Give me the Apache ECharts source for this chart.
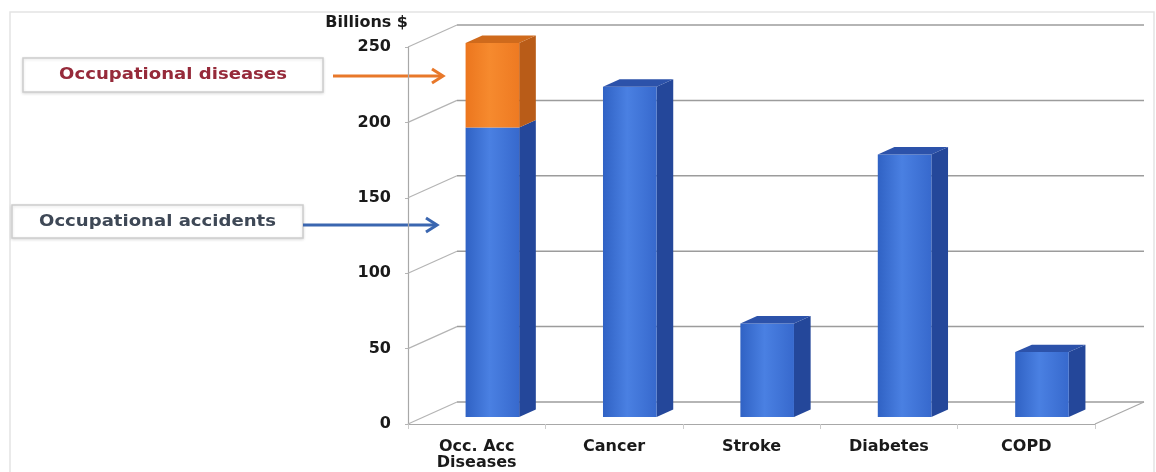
<!DOCTYPE html>
<html>
<head>
<meta charset="utf-8">
<title>Economic burden comparison</title>
<script src="https://cdn.jsdelivr.net/npm/echarts@6/dist/echarts.min.js"></script>
<style>
  html, body { margin: 0; padding: 0; background: #ffffff; }
  #chart { width: 1156px; height: 472px; }
</style>
</head>
<body>
<div id="chart"></div>
<script>
// Cost per condition, billions of dollars
const categories = ['Occ. Acc\nDiseases', 'Cancer', 'Stroke', 'Diabetes', 'COPD'];
const baseCost = [192, 219, 62, 174, 43];          // blue segment (occupational accidents for the first column)
const occDiseaseCost = [56, null, null, null, null]; // orange segment stacked on top
const yTicks = [0, 50, 100, 150, 200, 250];

// Pseudo-3D geometry (pixels): offset from the front plane to the back wall
const DX = 49, DY = -22;
const BAR_FRONT = 0.32;   // depth fraction where the bar's front face sits
const BAR_DEPTH = 0.34;   // depth fraction the bar occupies
const BAR_WIDTH = 0.39;   // share of the category band

const FONT = 'DejaVu Sans';

const blueStyle = {
  front: new echarts.graphic.LinearGradient(0, 0, 1, 0, [
    { offset: 0, color: '#3062c4' },
    { offset: 0.45, color: '#4a80e2' },
    { offset: 1, color: '#3769cd' }
  ]),
  side: '#24479a',
  top: '#2c52aa'
};
const orangeStyle = {
  front: new echarts.graphic.LinearGradient(0, 0, 1, 0, [
    { offset: 0, color: '#ec761e' },
    { offset: 0.45, color: '#f68a2e' },
    { offset: 1, color: '#ee7a22' }
  ]),
  side: '#b95c18',
  top: '#cf6a1c'
};

function boxRenderer(colors) {
  return function (params, api) {
    const i = api.value(0);
    const lo = api.value(1);
    const hi = api.value(2);
    const showTop = api.value(3) === 1;
    const band = api.size([1, 0])[0];
    const w = band * BAR_WIDTH;
    const pLo = api.coord([i, lo]);
    const pHi = api.coord([i, hi]);
    const xl = pLo[0] - w / 2 + BAR_FRONT * DX;
    const xr = xl + w;
    const yb = pLo[1] + BAR_FRONT * DY;
    const yt = pHi[1] + BAR_FRONT * DY;
    const dx = BAR_DEPTH * DX, dy = BAR_DEPTH * DY;
    const children = [
      {
        type: 'polygon',
        shape: { points: [[xr, yb], [xr + dx, yb + dy], [xr + dx, yt + dy], [xr, yt]] },
        style: { fill: colors.side }
      },
      {
        type: 'rect',
        shape: { x: xl, y: yt, width: w, height: yb - yt },
        style: { fill: colors.front }
      }
    ];
    if (showTop) {
      children.push({
        type: 'polygon',
        shape: { points: [[xl, yt], [xl + dx, yt + dy], [xr + dx, yt + dy], [xr, yt]] },
        style: { fill: colors.top }
      });
    }
    return { type: 'group', children: children };
  };
}

// Back wall gridlines with the receding tick connectors, plus the floor edge
function wallRenderer(params, api) {
  const cs = params.coordSys;
  const v = api.value(1);
  const y = api.coord([0, v])[1];
  const x0 = cs.x, x1 = cs.x + cs.width;
  const children = [
    {
      type: 'line',
      shape: { x1: x0, y1: y, x2: x0 + DX, y2: y + DY },
      style: { stroke: '#b4b4b4', lineWidth: 1.2 }
    },
    {
      type: 'line',
      shape: { x1: x0 + DX, y1: y + DY, x2: x1 + DX, y2: y + DY },
      style: { stroke: '#9c9c9c', lineWidth: 1.5 }
    }
  ];
  if (v === 0) {
    children.push({
      type: 'line',
      shape: { x1: x1, y1: y, x2: x1 + DX, y2: y + DY },
      style: { stroke: '#a8a8a8', lineWidth: 1.2 }
    });
  }
  return { type: 'group', children: children };
}

const blueData = categories.map((c, i) => [i, 0, baseCost[i], occDiseaseCost[i] == null ? 1 : 0]);
const orangeData = [];
occDiseaseCost.forEach((v, i) => {
  if (v != null) orangeData.push([i, baseCost[i], baseCost[i] + v, 1]);
});
const wallData = yTicks.map(v => [0, v]);

function arrow(x1, x2, y, color) {
  return {
    type: 'group',
    children: [
      { type: 'line', shape: { x1: x1, y1: y, x2: x2 - 2, y2: y }, style: { stroke: color, lineWidth: 3 } },
      { type: 'polyline', shape: { points: [[x2 - 11, y - 7], [x2, y], [x2 - 11, y + 7]] },
        style: { stroke: color, lineWidth: 3, fill: null } }
    ]
  };
}

function noteBox(x, y, w, h, text, color) {
  return {
    type: 'group',
    children: [
      { type: 'rect', shape: { x: x, y: y, width: w, height: h },
        style: { fill: '#ffffff', stroke: '#cdcdcd', lineWidth: 1.5,
                 shadowBlur: 3, shadowColor: 'rgba(0,0,0,0.12)', shadowOffsetY: 1 } },
      { type: 'text', x: x + w / 2, y: y + h / 2, scaleX: 1.13,
        style: { text: text, fill: color, font: 'bold 16px "' + FONT + '"',
                 align: 'center', verticalAlign: 'middle' } }
    ]
  };
}

const chart = echarts.init(document.getElementById('chart'), null, { renderer: 'canvas' });
chart.setOption({
  backgroundColor: '#ffffff',
  animation: false,
  grid: { left: 408, right: 61, top: 47, bottom: 48 },
  xAxis: {
    type: 'category',
    data: categories,
    axisLine: { show: true, lineStyle: { color: '#a8a8a8', width: 1.2 } },
    axisTick: { show: true, length: 5, lineStyle: { color: '#cccccc' } },
    axisLabel: {
      margin: 15, fontFamily: FONT, fontWeight: 'bold', fontSize: 16,
      lineHeight: 16, color: '#1a1a1a'
    },
    splitLine: { show: false }
  },
  yAxis: {
    type: 'value',
    min: 0, max: 250, interval: 50,
    name: 'Billions $',
    nameLocation: 'end',
    nameGap: 24,
    nameTextStyle: {
      fontFamily: FONT, fontWeight: 'bold', fontSize: 16, color: '#1a1a1a',
      align: 'right', verticalAlign: 'middle'
    },
    axisLine: { show: true, lineStyle: { color: '#a8a8a8', width: 1.2 } },
    axisTick: { show: true, length: 3, lineStyle: { color: '#b4b4b4' } },
    axisLabel: {
      margin: 17, fontFamily: FONT, fontWeight: 'bold', fontSize: 16, color: '#1a1a1a'
    },
    splitLine: { show: false }
  },
  series: [
    { type: 'custom', name: 'wall', renderItem: wallRenderer, data: wallData, z: 1, silent: true },
    { type: 'custom', name: 'Occupational accidents', renderItem: boxRenderer(blueStyle), data: blueData, z: 2 },
    { type: 'custom', name: 'Occupational diseases', renderItem: boxRenderer(orangeStyle), data: orangeData, z: 3 }
  ],
  graphic: [
    { type: 'rect', shape: { x: 10, y: 12, width: 1144, height: 470 },
      style: { fill: null, stroke: '#e4e4e4', lineWidth: 1.5 }, z: -10 },
    noteBox(23, 58, 300, 34, 'Occupational diseases', '#962a3a'),
    arrow(333, 443, 76, '#e8782a'),
    noteBox(12, 205, 291, 33, 'Occupational accidents', '#3e4856'),
    arrow(303, 437, 225, '#3a66b0')
  ]
});
</script>
</body>
</html>
